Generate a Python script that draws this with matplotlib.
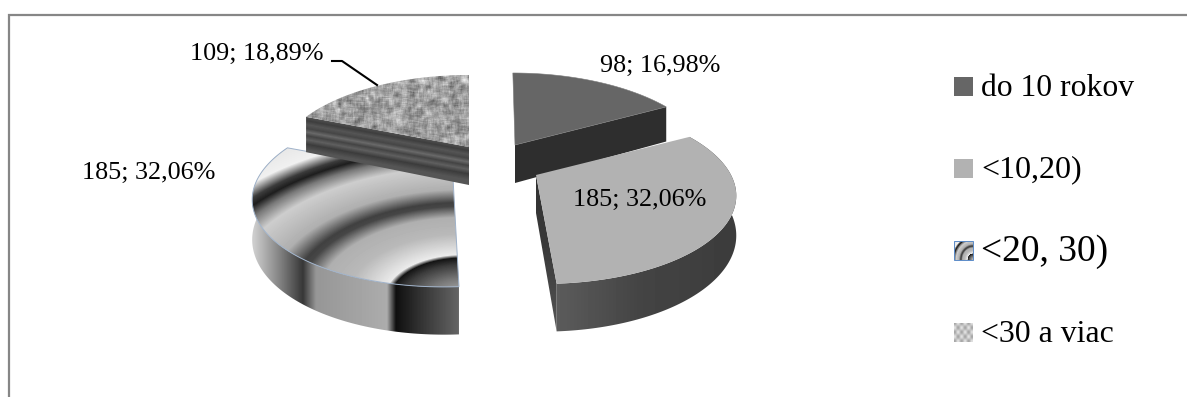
import numpy as np
import matplotlib
matplotlib.use('Agg')
import matplotlib.pyplot as plt
from matplotlib.patches import Polygon

categories = ['do 10 rokov', '<10,20)', '<20, 30)', '<30 a viac']
values = [98, 185, 185, 109]

plt.rcParams['font.family'] = ['Liberation Serif', 'DejaVu Serif']

W, H = 1187, 397
fig = plt.figure(figsize=(W / 100, H / 100), dpi=100)
ax = fig.add_axes([0, 0, 1, 1])

# tvar kolaca (perspektiva)
A = 195.0
B = 86.7
P = 0.204
T = 38.0
apexes = [(515, 145), (536, 175), (453, 178), (469, 147)]
shear = [0.03, 0.055, -0.08, 0.0]
scale = [0.98, 1.0, 1.0, 0.97]


def proj(n, deg):
    th = np.radians(np.asarray(deg, dtype=float))
    d = np.cos(th)
    k = 1 + P * d
    dy = -B * d / k
    return apexes[n][0] + scale[n] * A * np.sin(th) / k + shear[n] * dy, apexes[n][1] + dy, T / k


def top_poly(n, a0, a1):
    x, y, _ = proj(n, np.linspace(a0, a1, 120))
    return np.column_stack([np.r_[apexes[n][0], x], np.r_[apexes[n][1], y]])


def wall_poly(n, a0, a1):
    x, y, t = proj(n, np.linspace(a0, a1, 120))
    return np.column_stack([np.r_[x, x[::-1]], np.r_[y, (y + t)[::-1]]])


def cut_poly(n, a):
    x, y, t = proj(n, [a])
    ax0, ay0 = apexes[n]
    return np.array([(ax0, ay0), (x[0], y[0]), (x[0], y[0] + t[0]), (ax0, ay0 + T)])


def textured(img, poly, z, edge=None):
    # obrazok orezany podla polygonu, img je v pixeloch grafu
    xs, ys = poly[:, 0], poly[:, 1]
    x0, x1, y0, y1 = int(xs.min()) - 1, int(xs.max()) + 2, int(ys.min()) - 1, int(ys.max()) + 2
    xx, yy = np.meshgrid(np.arange(x0, x1) + 0.5, np.arange(y0, y1) + 0.5)
    im = ax.imshow(img(xx, yy), cmap='gray', vmin=0, vmax=255, extent=[x0, x1, y1, y0],
                   aspect='auto', zorder=z, interpolation='bilinear')
    patch = Polygon(poly, closed=True, transform=ax.transData, fc='none', ec='none')
    ax.add_patch(patch)
    im.set_clip_path(patch)
    if edge:
        ax.add_patch(Polygon(poly, closed=True, fc='none', ec=edge, lw=0.7, zorder=z + 0.1))


def rings(xx, yy, cx=463, cy=298):
    r = np.hypot(xx - cx, (yy - cy) * 1.8)
    return np.interp(r, [0, 35, 60, 72, 78, 115, 145, 165, 172, 195, 235, 255, 268, 277, 295, 340],
                     [190, 120, 60, 20, 235, 185, 175, 70, 65, 175, 205, 120, 30, 60, 240, 225])


def steel(xx, yy):
    return np.interp(xx, [254, 280, 303, 316, 387, 396, 420, 462],
                     [205, 130, 55, 150, 172, 15, 50, 105])


def grain(xx, yy):
    n = np.sin(xx * 12.9898 + yy * 78.233) * 43758.5453
    n = n - np.floor(n)
    s = np.zeros_like(n)
    for i in range(-2, 3):
        for j in range(-2, 3):
            s += np.roll(np.roll(n, i, 0), j, 1)
    return 158 + (s / 25 - 0.5) * 320


def stripes(xx, yy):
    v = (yy - (117 + (xx - 306) * 30 / 163)) / 30
    return np.interp(v, [0, 0.12, 0.25, 0.38, 0.5, 0.62, 0.75, 0.9, 1.1],
                     [80, 62, 85, 70, 105, 68, 95, 60, 85])


def front_wall(xx, yy):
    return np.interp(xx, [555, 640, 735], [92, 68, 60])


def cut_wall(xx, yy):
    return np.interp(yy, [175, 250, 330], [50, 58, 85])


cum = np.cumsum([0] + values) / sum(values) * 360

# 1. do 10 rokov
ax.add_patch(Polygon(cut_poly(0, cum[1]), fc='#2e2e2e', ec='none', zorder=2))
ax.add_patch(Polygon(top_poly(0, cum[0], cum[1]), fc='#666666', ec='#7a7a7a', lw=0.4, zorder=3))

# 2. <10,20)
textured(cut_wall, cut_poly(1, cum[2]), 4)
textured(front_wall, wall_poly(1, cum[1], cum[2]), 4.2)
ax.add_patch(Polygon(top_poly(1, cum[1], cum[2]), fc='#b2b2b2', ec='none', zorder=5))

# 3. <20, 30)
textured(steel, wall_poly(2, cum[2], cum[3]), 4)
textured(rings, top_poly(2, cum[2], cum[3]), 5, edge='#9fb2ca')

# 4. <30 a viac (stena lezi nad tretim dielom)
textured(stripes, cut_poly(3, cum[3]), 6)
textured(grain, top_poly(3, cum[3], cum[4]), 6.2)

# popisky hodnot
total = sum(values)
labels = ['%d; %s%%' % (v, ('%.2f' % (v / total * 100)).replace('.', ',')) for v in values]
label_pos = [(660, 66), (640, 200), (149, 173), (257, 54)]
for s, (x, y) in zip(labels, label_pos):
    ax.text(x, y, s, fontsize=18.8, ha='center', va='center', color='black', zorder=8)
ax.plot([332, 342, 377], [61, 61, 85], color='black', lw=1.5, zorder=7)

# legenda
leg_y = [86.5, 168, 250, 332]
leg_size = [22.8, 23, 27, 22.9]
for i, c in enumerate(categories):
    y = leg_y[i]
    box = np.array([(954, y - 9.5), (973, y - 9.5), (973, y + 9.5), (954, y + 9.5)])
    if i == 0:
        ax.add_patch(Polygon(box, fc='#666666', ec='none', zorder=3))
    elif i == 1:
        ax.add_patch(Polygon(box, fc='#b2b2b2', ec='none', zorder=3))
    elif i == 2:
        textured(lambda xx, yy: rings(463 + (xx - 973) * 14, 298 + (yy - (y + 9.5)) * 7), box, 3, edge='#5b8bc8')
    else:
        textured(lambda xx, yy: 195 + 30 * np.sin(xx * 0.9) * np.cos(yy * 0.7), box, 3)
    ax.text(981, y + 2, c, fontsize=leg_size[i], ha='left', va='center', color='black', zorder=8)

# ramik
ax.plot([8.5, 8.5, W], [H, 14.5, 14.5], color='#868686', lw=1.6, zorder=1, solid_joinstyle='miter')

ax.set_xlim(0, W)
ax.set_ylim(H, 0)
ax.axis('off')
fig.savefig('out.png', dpi=100, facecolor='white')
